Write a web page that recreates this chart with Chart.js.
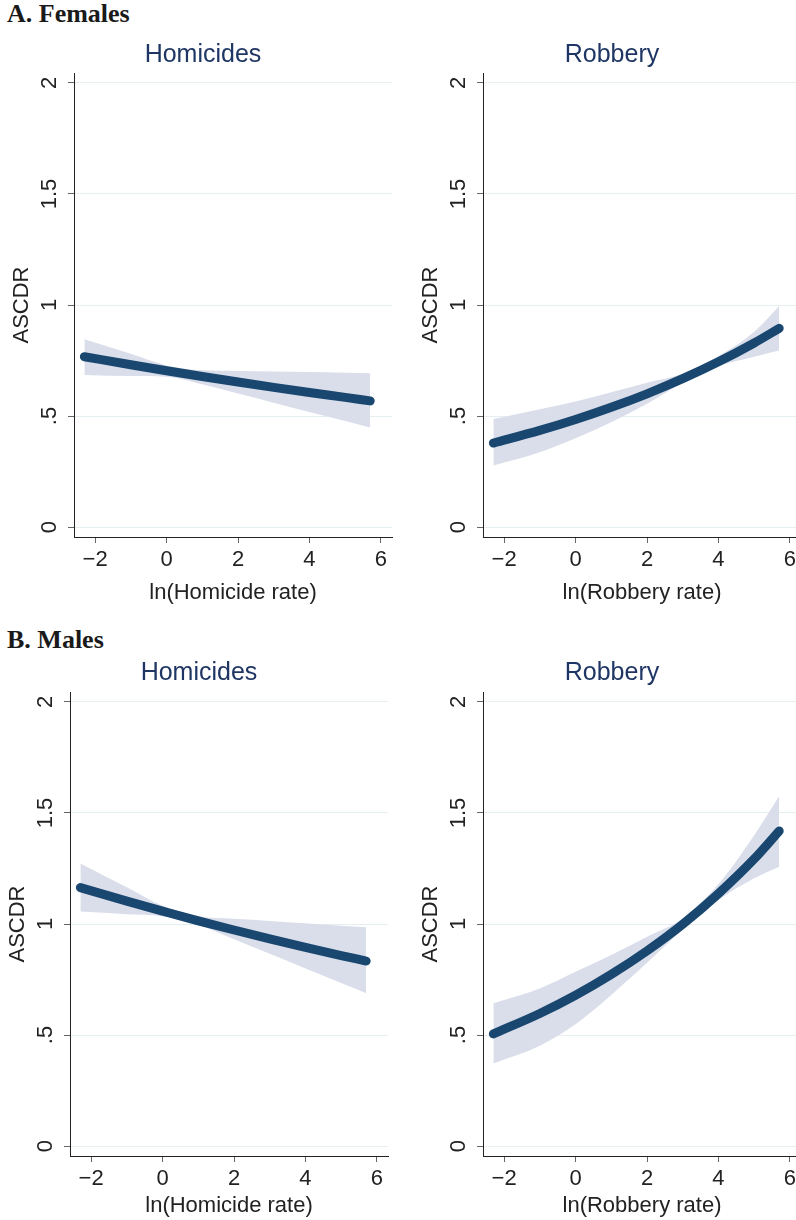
<!DOCTYPE html>
<html>
<head>
<meta charset="utf-8">
<script src="https://cdn.jsdelivr.net/npm/chart.js@4.4.1/dist/chart.umd.min.js"></script>
<style>
    body {
        margin: 0;
        width: 796px;
        height: 1220px;
        overflow: hidden;
        position: relative;
        background-color: #ffffff;
    }

    .panel_label {
        position: absolute;
        left: 7px;
        font-family: "Liberation Serif", "Times New Roman", serif;
        font-weight: bold;
        font-size: 26px;
        line-height: 26px;
        color: #1a1a1a;
    }

    canvas {
        position: absolute;
    }
</style>
</head>
<body>
<div class="panel_label" style="top: 1px">A. Females</div>
<div class="panel_label" style="top: 627px">B. Males</div>

<canvas id="femHom" width="406" height="566" style="left: 0px; top: 40px"></canvas>
<canvas id="femRob" width="406" height="566" style="left: 409px; top: 40px"></canvas>
<canvas id="maleHom" width="406" height="561" style="left: -4px; top: 658px"></canvas>
<canvas id="maleRob" width="406" height="561" style="left: 409px; top: 658px"></canvas>

<script>
let xPoints = [-2.3, -1, 0, 1, 2, 3, 4, 5, 5.7];

let xTickValues = [-2, 0, 2, 4, 6];
let xTickLabels = ['\u22122', '0', '2', '4', '6'];
let yTickValues = [0, 0.5, 1, 1.5, 2];
let yTickLabels = ['0', '.5', '1', '1.5', '2'];

// A. Females - Homicides
let femHomFit = [0.767, 0.731, 0.704, 0.678, 0.653, 0.629, 0.606, 0.584, 0.568];
let femHomUpper = [0.846, 0.780, 0.728, 0.706, 0.703, 0.701, 0.698, 0.695, 0.693];
let femHomLower = [0.685, 0.680, 0.677, 0.643, 0.601, 0.560, 0.518, 0.477, 0.448];

// A. Females - Robbery
let femRobFit = [0.378, 0.435, 0.484, 0.539, 0.600, 0.668, 0.744, 0.829, 0.895];
let femRobUpper = [0.486, 0.530, 0.565, 0.607, 0.650, 0.690, 0.770, 0.880, 0.996];
let femRobLower = [0.277, 0.337, 0.400, 0.472, 0.555, 0.650, 0.725, 0.767, 0.795];

// B. Males - Homicides
let maleHomFit = [1.164, 1.103, 1.058, 1.014, 0.973, 0.933, 0.895, 0.858, 0.833];
let maleHomUpper = [1.273, 1.165, 1.082, 1.035, 1.024, 1.014, 1.003, 0.992, 0.985];
let maleHomLower = [1.056, 1.044, 1.035, 0.997, 0.931, 0.866, 0.800, 0.734, 0.688];

// B. Males - Robbery
let maleRobFit = [0.505, 0.597, 0.679, 0.773, 0.879, 0.999, 1.137, 1.293, 1.419];
let maleRobUpper = [0.643, 0.710, 0.785, 0.860, 0.943, 1.025, 1.180, 1.400, 1.577];
let maleRobLower = [0.372, 0.452, 0.548, 0.680, 0.825, 0.975, 1.108, 1.206, 1.258];

let lineColor = '#1a476f';
let bandColor = '#dadeea';
let gridColor = '#e5eef1';
let titleColor = '#1f3664';

Chart.defaults.font.family = '"Liberation Sans", Arial, sans-serif';
Chart.defaults.color = '#222222';


function toPoints(values) {
    let points = [];
    for (let i = 0; i < xPoints.length; i++) {
        points.push({ x: xPoints[i], y: values[i] });
    }
    return points;
}

function makePanel(id, title, xTitle, fit, upper, lower, titlePadBottom, xAxisHeight) {
    let ctx = document.getElementById(id);

    new Chart(ctx, {
        type: 'line',
        data: {
            datasets: [{
                data: toPoints(fit),
                borderColor: lineColor,
                borderWidth: 9,
                borderCapStyle: 'round',
                cubicInterpolationMode: 'monotone',
                pointRadius: 0,
                fill: false
            }, {
                data: toPoints(upper),
                borderWidth: 0,
                borderColor: bandColor,
                backgroundColor: bandColor,
                pointRadius: 0,
                cubicInterpolationMode: 'monotone',
                fill: '+1'
            }, {
                data: toPoints(lower),
                borderWidth: 0,
                borderColor: bandColor,
                pointRadius: 0,
                cubicInterpolationMode: 'monotone',
                fill: false
            }]
        },
        options: {
            responsive: false,
            animation: false,
            devicePixelRatio: 1,
            layout: {
                padding: 0
            },
            plugins: {
                legend: { display: false },
                tooltip: { enabled: false },
                title: {
                    display: true,
                    text: title,
                    color: titleColor,
                    font: { size: 25, weight: 'normal' },
                    padding: { top: 0, bottom: titlePadBottom }
                }
            },
            scales: {
                x: {
                    type: 'linear',
                    min: -2.59,
                    max: 6.31,
                    afterBuildTicks: function (axis) {
                        axis.ticks = xTickValues.map(v => ({ value: v }));
                    },
                    afterFit: function (axis) {
                        axis.height = xAxisHeight;
                    },
                    ticks: {
                        font: { size: 22 },
                        padding: 4,
                        maxRotation: 0,
                        callback: function (value) {
                            return xTickLabels[xTickValues.indexOf(value)];
                        }
                    },
                    grid: {
                        drawOnChartArea: false,
                        tickLength: 6,
                        tickColor: '#666666'
                    },
                    border: { display: true, color: '#222222', width: 1 },
                    title: {
                        display: true,
                        text: xTitle,
                        font: { size: 22 },
                        padding: { top: 0, bottom: 0 }
                    }
                },
                y: {
                    type: 'linear',
                    min: -0.045,
                    max: 2.045,
                    afterBuildTicks: function (axis) {
                        axis.ticks = yTickValues.map(v => ({ value: v }));
                    },
                    afterFit: function (axis) {
                        axis.width = 74;
                    },
                    ticks: {
                        font: { size: 22 },
                        padding: 3,
                        minRotation: 90,
                        maxRotation: 90,
                        crossAlign: 'center',
                        callback: function (value) {
                            return yTickLabels[yTickValues.indexOf(value)];
                        }
                    },
                    grid: {
                        color: gridColor,
                        lineWidth: 1,
                        tickLength: 6,
                        tickColor: '#666666'
                    },
                    border: { display: true, color: '#222222', width: 1 },
                    title: {
                        display: true,
                        text: 'ASCDR',
                        font: { size: 22 },
                        padding: { top: 9, bottom: 0 }
                    }
                },
                // empty right margin, so the panel title stays centred on the whole panel
                yRight: {
                    type: 'linear',
                    position: 'right',
                    grid: { display: false },
                    ticks: { display: false },
                    border: { display: false },
                    afterFit: function (axis) {
                        axis.width = 14;
                    }
                }
            }
        }
    });
}

makePanel('femHom', 'Homicides', 'ln(Homicide rate)', femHomFit, femHomUpper, femHomLower, 3, 69);
makePanel('femRob', 'Robbery', 'ln(Robbery rate)', femRobFit, femRobUpper, femRobLower, 3, 69);
makePanel('maleHom', 'Homicides', 'ln(Homicide rate)', maleHomFit, maleHomUpper, maleHomLower, 4, 63);
makePanel('maleRob', 'Robbery', 'ln(Robbery rate)', maleRobFit, maleRobUpper, maleRobLower, 4, 63);
</script>
</body>
</html>
